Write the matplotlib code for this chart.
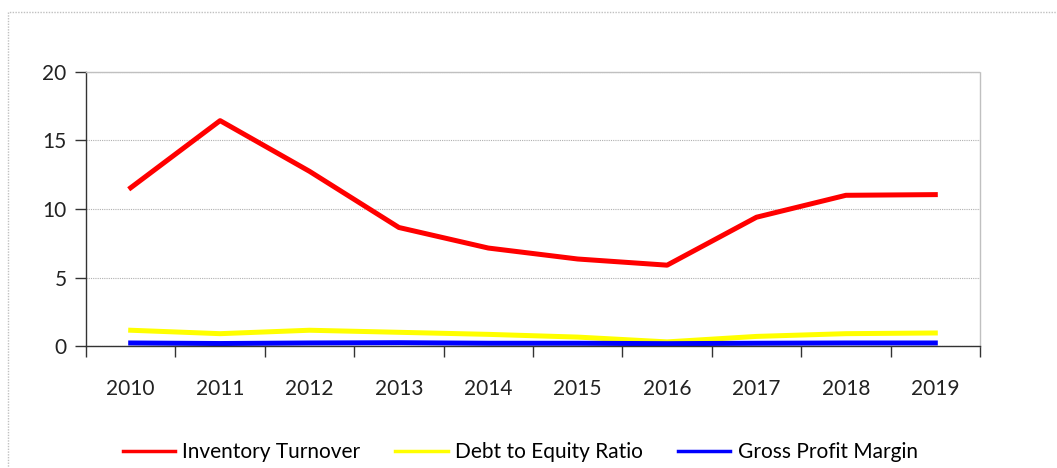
import matplotlib.pyplot as plt
from matplotlib.patches import Rectangle

# data
years = ["2010", "2011", "2012", "2013", "2014", "2015", "2016", "2017", "2018", "2019"]
inventory_turnover = [11.55, 16.45, 12.75, 8.65, 7.15, 6.35, 5.9, 9.4, 11.0, 11.05]
debt_to_equity = [1.15, 0.9, 1.15, 1.0, 0.85, 0.65, 0.3, 0.7, 0.9, 0.95]
gross_profit_margin = [0.22, 0.18, 0.22, 0.24, 0.2, 0.2, 0.17, 0.2, 0.22, 0.22]

plt.rcParams['font.family'] = ['Lato', 'DejaVu Sans']

fig = plt.figure(figsize=(10.57, 4.68), dpi=100)
fig.patch.set_facecolor("white")

# dotted outer border of the chart area
fig.patches.append(Rectangle((8 / 1057, -0.1), 1.2, (468 - 12) / 468 + 0.1,
                             transform=fig.transFigure, fill=False,
                             edgecolor="#c0c0c0", linestyle=(0, (1, 1)), linewidth=1))

ax = fig.add_axes([86 / 1057, 1 - 346 / 468, (980 - 86) / 1057, (346 - 72) / 468])

x = list(range(len(years)))
ax.plot(x, inventory_turnover, color="#ff0000", linewidth=3.6, label="Inventory Turnover")
ax.plot(x, debt_to_equity, color="#ffff00", linewidth=3.6, label="Debt to Equity Ratio")
ax.plot(x, gross_profit_margin, color="#0000ff", linewidth=3.6, label="Gross Profit Margin")

ax.set_xlim(-0.5, 9.5)
ax.set_ylim(0, 20)
ax.set_yticks([0, 5, 10, 15, 20])

# ticks between categories, labels at centres
ax.set_xticks([i - 0.5 for i in range(11)])
ax.set_xticklabels([])
ax.set_xticks(x, minor=True)
ax.set_xticklabels(years, minor=True)
ax.tick_params(axis="x", which="major", length=8, width=1, color="#333333", direction="out")
ax.tick_params(axis="x", which="minor", length=0, pad=24, labelsize=15, labelcolor="#222222")
ax.tick_params(axis="y", length=8, width=1, color="#333333", pad=6, labelsize=15, labelcolor="#222222")

ax.grid(axis="y", color="#b0b0b0", linestyle=(0, (1, 1)), linewidth=0.8)
ax.set_axisbelow(True)

for s in ["left", "bottom"]:
    ax.spines[s].set_color("#333333")
    ax.spines[s].set_linewidth(1)
for s in ["top", "right"]:
    ax.spines[s].set_color("#c0c0c0")
    ax.spines[s].set_linestyle((0, (1, 1)))
    ax.spines[s].set_linewidth(1)

leg = fig.legend(loc="center", bbox_to_anchor=(0.492, 1 - 452 / 468), ncol=3,
                 frameon=False, fontsize=15, handlelength=2.5, handletextpad=0.35,
                 columnspacing=1.7)
for line in leg.get_lines():
    line.set_linewidth(2.5)

fig.savefig("out.png", dpi=100, facecolor="white")
